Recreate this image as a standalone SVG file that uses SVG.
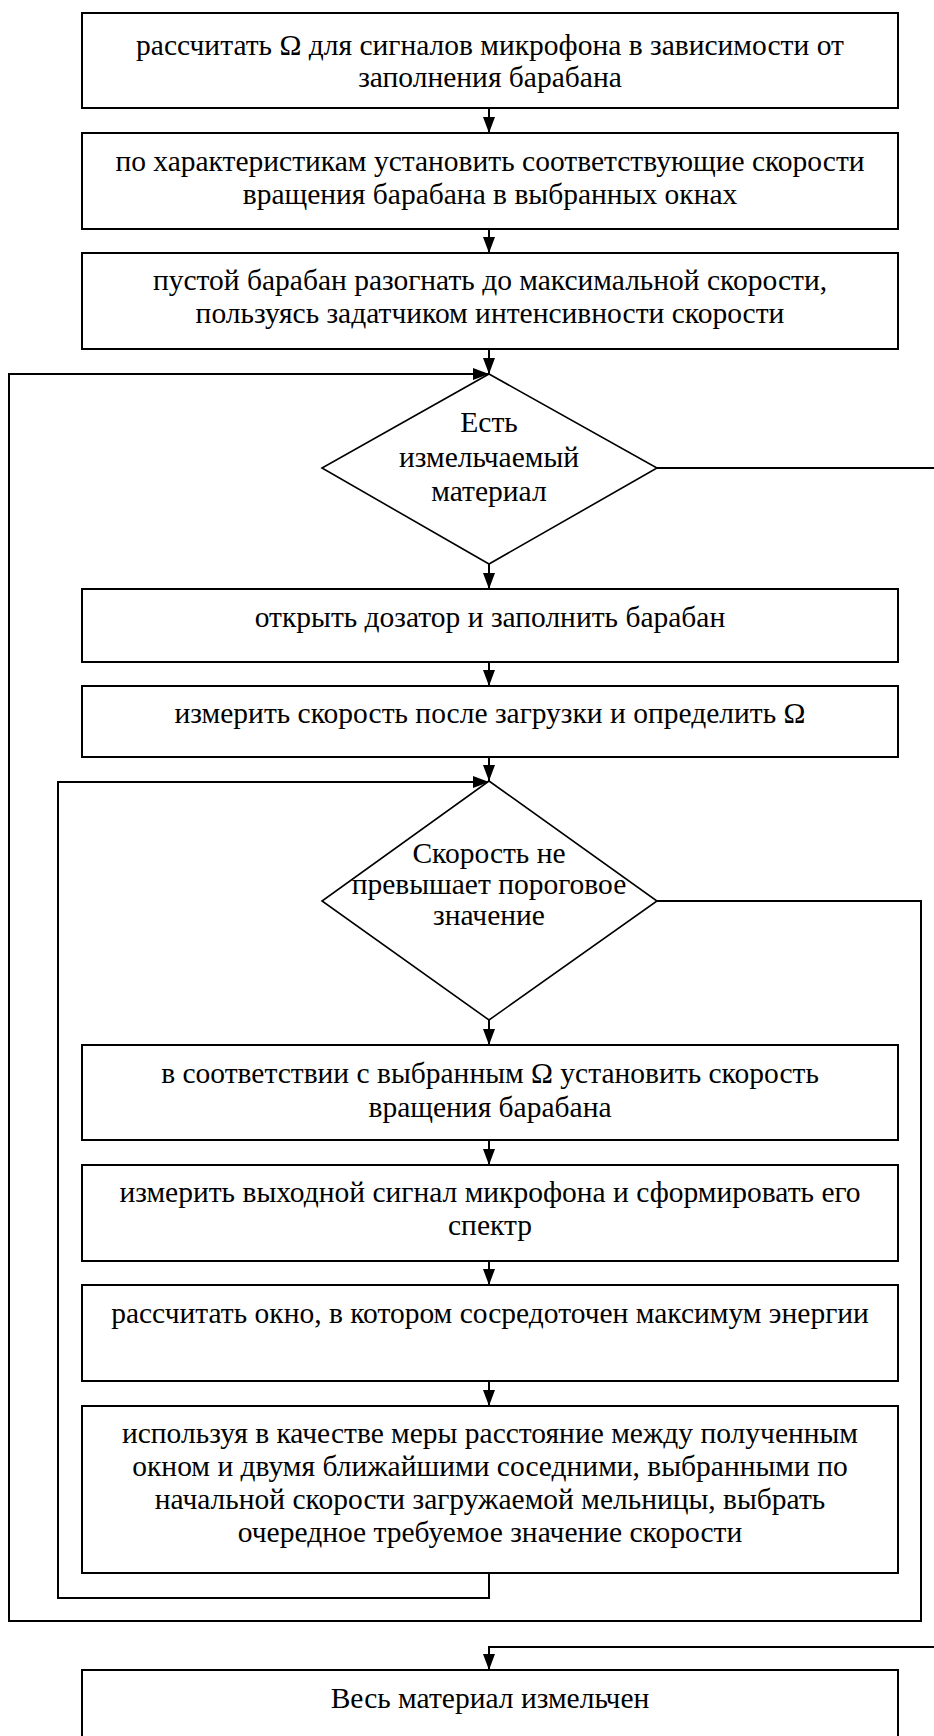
<svg xmlns="http://www.w3.org/2000/svg" width="934" height="1736" viewBox="0 0 934 1736">
  <style>
    .box { fill: #fff; stroke: #000; stroke-width: 2; }
    .dia { fill: #fff; stroke: #000; stroke-width: 1.6; }
    .txt { font-family: "Liberation Serif", "Times New Roman", serif; font-size: 29.5px; fill: #000; text-anchor: middle; }
    .wire { fill: none; stroke: #000; stroke-width: 2; }
  </style>
  <defs>
    <marker id="arrow" viewBox="0 0 16 12" refX="16" refY="6" markerWidth="16" markerHeight="12" markerUnits="userSpaceOnUse" orient="auto">
      <path d="M0,0 L16,6 L0,12 Z" fill="#000"/>
    </marker>
  </defs>
  <rect width="934" height="1736" fill="#fff"/>

  <!-- connectors -->
  <g id="connectors">
    <line class="wire" x1="489" y1="108" x2="489" y2="133" marker-end="url(#arrow)"/>
    <line class="wire" x1="489" y1="229" x2="489" y2="253" marker-end="url(#arrow)"/>
    <line class="wire" x1="489" y1="349" x2="489" y2="374" marker-end="url(#arrow)"/>
    <line class="wire" x1="489" y1="564" x2="489" y2="589" marker-end="url(#arrow)"/>
    <line class="wire" x1="489" y1="662" x2="489" y2="686" marker-end="url(#arrow)"/>
    <line class="wire" x1="489" y1="757" x2="489" y2="781" marker-end="url(#arrow)"/>
    <line class="wire" x1="489" y1="1020" x2="489" y2="1045" marker-end="url(#arrow)"/>
    <line class="wire" x1="489" y1="1140" x2="489" y2="1165" marker-end="url(#arrow)"/>
    <line class="wire" x1="489" y1="1261" x2="489" y2="1285" marker-end="url(#arrow)"/>
    <line class="wire" x1="489" y1="1381" x2="489" y2="1406" marker-end="url(#arrow)"/>
    <!-- outer loop back to the material check -->
    <path class="wire" d="M657,901 H921 V1621 H9 V374 H489" marker-end="url(#arrow)"/>
    <!-- inner loop back to the speed check -->
    <path class="wire" d="M489,1573 V1598 H58 V782 H489" marker-end="url(#arrow)"/>
    <!-- exit branch of the material check -->
    <path class="wire" d="M657,468 H936"/>
    <path class="wire" d="M936,1647 H489 V1670" marker-end="url(#arrow)"/>
  </g>

  <g id="n1">
    <rect class="box" x="82" y="13" width="816" height="95"/>
    <text class="txt" x="490" y="55">рассчитать Ω для сигналов микрофона в зависимости от</text>
    <text class="txt" x="490" y="87">заполнения барабана</text>
  </g>
  <g id="n2">
    <rect class="box" x="82" y="133" width="816" height="96"/>
    <text class="txt" x="490" y="171">по характеристикам установить соответствующие скорости</text>
    <text class="txt" x="490" y="204">вращения барабана в выбранных окнах</text>
  </g>
  <g id="n3">
    <rect class="box" x="82" y="253" width="816" height="96"/>
    <text class="txt" x="490" y="290">пустой барабан разогнать до максимальной скорости,</text>
    <text class="txt" x="490" y="323">пользуясь задатчиком интенсивности скорости</text>
  </g>
  <g id="d1">
    <polygon class="dia" points="489,374 657,468 489,564 322,468"/>
    <text class="txt" x="489" y="432">Есть</text>
    <text class="txt" x="489" y="467">измельчаемый</text>
    <text class="txt" x="489" y="501">материал</text>
  </g>
  <g id="n4">
    <rect class="box" x="82" y="589" width="816" height="73"/>
    <text class="txt" x="490" y="627">открыть дозатор и заполнить барабан</text>
  </g>
  <g id="n5">
    <rect class="box" x="82" y="686" width="816" height="71"/>
    <text class="txt" x="490" y="723">измерить скорость после загрузки и определить Ω</text>
  </g>
  <g id="d2">
    <polygon class="dia" points="489,781 657,901 489,1020 322,901"/>
    <text class="txt" x="489" y="863">Скорость не</text>
    <text class="txt" x="489" y="894">превышает пороговое</text>
    <text class="txt" x="489" y="925">значение</text>
  </g>
  <g id="n6">
    <rect class="box" x="82" y="1045" width="816" height="95"/>
    <text class="txt" x="490" y="1083">в соответствии с выбранным Ω установить скорость</text>
    <text class="txt" x="490" y="1117">вращения барабана</text>
  </g>
  <g id="n7">
    <rect class="box" x="82" y="1165" width="816" height="96"/>
    <text class="txt" x="490" y="1202">измерить выходной сигнал микрофона и сформировать его</text>
    <text class="txt" x="490" y="1235">спектр</text>
  </g>
  <g id="n8">
    <rect class="box" x="82" y="1285" width="816" height="96"/>
    <text class="txt" x="490" y="1323">рассчитать окно, в котором сосредоточен максимум энергии</text>
  </g>
  <g id="n9">
    <rect class="box" x="82" y="1406" width="816" height="167"/>
    <text class="txt" x="490" y="1443">используя в качестве меры расстояние между полученным</text>
    <text class="txt" x="490" y="1476">окном и двумя ближайшими соседними, выбранными по</text>
    <text class="txt" x="490" y="1509">начальной скорости загружаемой мельницы, выбрать</text>
    <text class="txt" x="490" y="1542">очередное требуемое значение скорости</text>
  </g>
  <g id="n10">
    <rect class="box" x="82" y="1670" width="816" height="80"/>
    <text class="txt" x="490" y="1708">Весь материал измельчен</text>
  </g>
</svg>
